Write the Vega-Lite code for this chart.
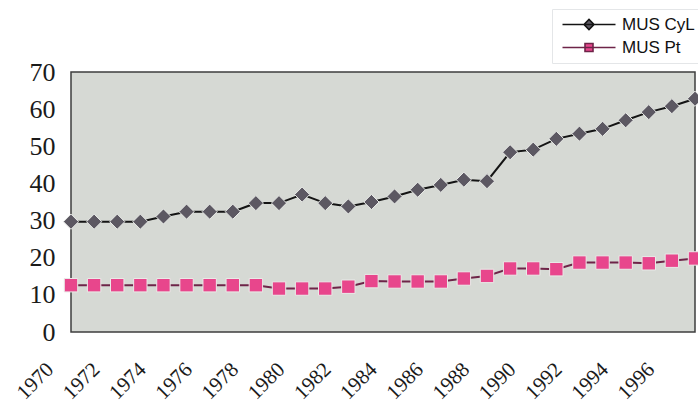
{
  "$schema": "https://vega.github.io/schema/vega-lite/v6.json",
  "autosize": "none",
  "width": 624,
  "height": 260,
  "padding": {"left": 71, "top": 72, "right": 3, "bottom": 73},
  "background": "#ffffff",
  "config": {
    "view": {"fill": "#d6d9d4", "stroke": "#3e3e3e", "strokeWidth": 1.5},
    "axis": {"grid": false, "domain": false, "ticks": false, "labelFont": "Liberation Serif", "labelColor": "#1a1a1a", "title": null}
  },
  "data": {
    "values": [
      {"year": 1970, "series": "MUS CyL", "value": 29.7},
      {"year": 1971, "series": "MUS CyL", "value": 29.7},
      {"year": 1972, "series": "MUS CyL", "value": 29.7},
      {"year": 1973, "series": "MUS CyL", "value": 29.7},
      {"year": 1974, "series": "MUS CyL", "value": 31.1},
      {"year": 1975, "series": "MUS CyL", "value": 32.4},
      {"year": 1976, "series": "MUS CyL", "value": 32.4},
      {"year": 1977, "series": "MUS CyL", "value": 32.4},
      {"year": 1978, "series": "MUS CyL", "value": 34.7},
      {"year": 1979, "series": "MUS CyL", "value": 34.7},
      {"year": 1980, "series": "MUS CyL", "value": 37.0},
      {"year": 1981, "series": "MUS CyL", "value": 34.7},
      {"year": 1982, "series": "MUS CyL", "value": 33.8},
      {"year": 1983, "series": "MUS CyL", "value": 35.0},
      {"year": 1984, "series": "MUS CyL", "value": 36.5},
      {"year": 1985, "series": "MUS CyL", "value": 38.3},
      {"year": 1986, "series": "MUS CyL", "value": 39.6},
      {"year": 1987, "series": "MUS CyL", "value": 41.0},
      {"year": 1988, "series": "MUS CyL", "value": 40.6},
      {"year": 1989, "series": "MUS CyL", "value": 48.4},
      {"year": 1990, "series": "MUS CyL", "value": 49.1},
      {"year": 1991, "series": "MUS CyL", "value": 52.0},
      {"year": 1992, "series": "MUS CyL", "value": 53.4},
      {"year": 1993, "series": "MUS CyL", "value": 54.7},
      {"year": 1994, "series": "MUS CyL", "value": 57.0},
      {"year": 1995, "series": "MUS CyL", "value": 59.2},
      {"year": 1996, "series": "MUS CyL", "value": 60.8},
      {"year": 1997, "series": "MUS CyL", "value": 62.8},
      {"year": 1970, "series": "MUS Pt", "value": 12.6},
      {"year": 1971, "series": "MUS Pt", "value": 12.6},
      {"year": 1972, "series": "MUS Pt", "value": 12.6},
      {"year": 1973, "series": "MUS Pt", "value": 12.6},
      {"year": 1974, "series": "MUS Pt", "value": 12.6},
      {"year": 1975, "series": "MUS Pt", "value": 12.6},
      {"year": 1976, "series": "MUS Pt", "value": 12.6},
      {"year": 1977, "series": "MUS Pt", "value": 12.6},
      {"year": 1978, "series": "MUS Pt", "value": 12.6},
      {"year": 1979, "series": "MUS Pt", "value": 11.7},
      {"year": 1980, "series": "MUS Pt", "value": 11.7},
      {"year": 1981, "series": "MUS Pt", "value": 11.7},
      {"year": 1982, "series": "MUS Pt", "value": 12.2},
      {"year": 1983, "series": "MUS Pt", "value": 13.7},
      {"year": 1984, "series": "MUS Pt", "value": 13.6},
      {"year": 1985, "series": "MUS Pt", "value": 13.6},
      {"year": 1986, "series": "MUS Pt", "value": 13.6},
      {"year": 1987, "series": "MUS Pt", "value": 14.4},
      {"year": 1988, "series": "MUS Pt", "value": 15.1},
      {"year": 1989, "series": "MUS Pt", "value": 17.1},
      {"year": 1990, "series": "MUS Pt", "value": 17.1},
      {"year": 1991, "series": "MUS Pt", "value": 16.9},
      {"year": 1992, "series": "MUS Pt", "value": 18.7},
      {"year": 1993, "series": "MUS Pt", "value": 18.7},
      {"year": 1994, "series": "MUS Pt", "value": 18.7},
      {"year": 1995, "series": "MUS Pt", "value": 18.5},
      {"year": 1996, "series": "MUS Pt", "value": 19.2},
      {"year": 1997, "series": "MUS Pt", "value": 19.8}
    ]
  },
  "encoding": {
    "x": {
      "field": "year", "type": "quantitative",
      "scale": {"domain": [1970, 1997], "nice": false, "zero": false},
      "axis": {
        "values": [1970, 1972, 1974, 1976, 1978, 1980, 1982, 1984, 1986, 1988, 1990, 1992, 1994, 1996],
        "format": "d", "labelAngle": -45, "labelAlign": "right", "labelBaseline": "middle",
        "labelFontSize": 21, "labelPadding": 34, "labelOffset": -21, "labelFlush": false, "labelOverlap": false, "labelBound": false
      }
    },
    "y": {
      "field": "value", "type": "quantitative",
      "scale": {"domain": [0, 70], "nice": false},
      "axis": {"values": [0, 10, 20, 30, 40, 50, 60, 70], "labelFontSize": 26, "labelPadding": 16}
    }
  },
  "layer": [
    {
      "mark": {"type": "line", "strokeWidth": 2},
      "encoding": {
        "stroke": {
          "field": "series", "type": "nominal",
          "scale": {"domain": ["MUS CyL", "MUS Pt"], "range": ["#141414", "#6e2448"]},
          "legend": {
            "title": null, "orient": "none", "legendX": 481, "legendY": -63,
            "labelFont": "Liberation Sans", "labelFontSize": 17, "labelColor": "#111111",
            "labelOffset": 46, "rowPadding": 5,
            "symbolSize": 100, "symbolStrokeWidth": 1.6,
            "strokeColor": "#e4e6e8", "padding": 7, "fillColor": "#ffffff",
            "encoding": {
              "symbols": {
                "shape": {"condition": {"test": "datum.value === 'MUS CyL'", "value": "M-1,0H9.6M3.3,0L4.3,-1L5.3,0L4.3,1Z"}, "value": "M-1,0H9.6M3.5,-0.8H5.1V0.8H3.5Z"},
                "fill": {"condition": {"test": "datum.value === 'MUS CyL'", "value": "#5c5862"}, "value": "#e8468c"}
              }
            }
          }
        }
      }
    },
    {
      "transform": [{"filter": "datum.series === 'MUS CyL'"}],
      "mark": {"type": "point", "shape": "diamond", "filled": true, "opacity": 1, "fill": "#5c5862", "stroke": "#e9ebe8", "strokeWidth": 1, "size": 230}
    },
    {
      "transform": [{"filter": "datum.series === 'MUS Pt'"}],
      "mark": {"type": "point", "shape": "square", "filled": true, "opacity": 1, "fill": "#e8468c", "stroke": "#e9ebe8", "strokeWidth": 1, "size": 180}
    }
  ]
}
